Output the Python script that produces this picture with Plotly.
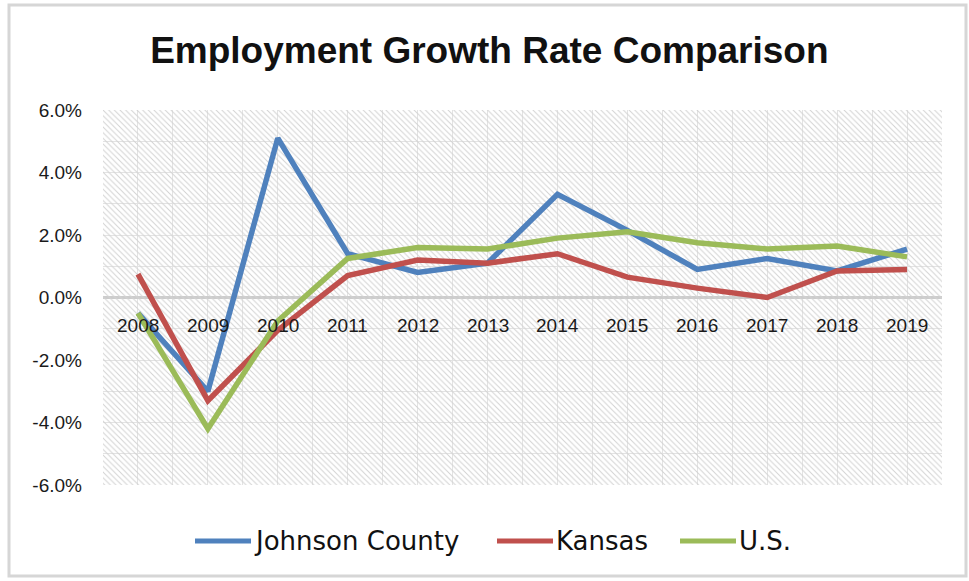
import plotly.graph_objects as go

# ---- data -------------------------------------------------------------
years = ["2008", "2009", "2010", "2011", "2012", "2013",
         "2014", "2015", "2016", "2017", "2018", "2019"]
johnson_county = [-0.5, -3.0, 5.1, 1.4, 0.8, 1.1, 3.3, 2.15, 0.9, 1.25, 0.85, 1.55]
kansas = [0.75, -3.3, -1.05, 0.7, 1.2, 1.1, 1.4, 0.65, 0.3, 0.0, 0.85, 0.9]
us = [-0.5, -4.2, -0.75, 1.25, 1.6, 1.55, 1.9, 2.1, 1.75, 1.55, 1.65, 1.3]
y_ticks = [-6, -4, -2, 0, 2, 4, 6]
y_tick_labels = [f"{v:.1f}%" for v in y_ticks]

series_names = ["Johnson County", "Kansas", "U.S."]
series_values = [johnson_county, kansas, us]
series_colors = ["#4F81BD", "#C0504D", "#9BBB59"]

# ---- layout geometry (pixels) -----------------------------------------
W, H = 969, 581
PL, PR, PT, PB = 103, 942, 110, 485          # plot-area edges
FONT = "Liberation Sans"
LEGEND_FONT = "DejaVu Sans"
LEGEND_Y = 541
LEGEND_SWATCH_X = [195, 497, 680]            # left end of each legend swatch
SWATCH_LEN = 56
n = len(years)


def px_to_paper_x(px):
    return (px - PL) / (PR - PL)


def px_to_paper_y(py):
    return (PB - py) / (PB - PT)


fig = go.Figure()

# hatched plot-area background (linear x axis, drawn underneath)
fig.add_trace(go.Scatter(
    x=[-0.5, n - 0.5, n - 0.5, -0.5, -0.5],
    y=[y_ticks[0], y_ticks[0], y_ticks[-1], y_ticks[-1], y_ticks[0]],
    xaxis="x", yaxis="y",
    mode="none", fill="toself",
    fillcolor="rgba(0,0,0,0)",
    fillpattern=dict(shape="\\", fgcolor="#d2d2d2", bgcolor="rgba(0,0,0,0)",
                     size=4, solidity=0.25, fillmode="replace"),
    hoverinfo="skip", showlegend=False,
))

# the three series on the categorical year axis, drawn on top
for name, vals, color in zip(series_names, series_values, series_colors):
    fig.add_trace(go.Scatter(
        x=years, y=vals, name=name, mode="lines",
        xaxis="x2", yaxis="y",
        line=dict(color=color, width=5.5),
        hovertemplate="%{x}: %{y:.1f}%<extra>" + name + "</extra>",
        showlegend=False,
    ))

# year labels sit just under the zero line (category index positions)
annotations = [
    dict(x=i, y=0, xref="x2", yref="y", text=yr, showarrow=False,
         yanchor="top", yshift=-15, font=dict(family=FONT, size=19, color="#1a1a1a"))
    for i, yr in enumerate(years)
]

# legend along the bottom: coloured swatch followed by the series name
shapes = [dict(type="rect", xref="paper", yref="paper",
               x0=px_to_paper_x(9), x1=px_to_paper_x(966),
               y0=px_to_paper_y(576), y1=px_to_paper_y(5),
               line=dict(color="#d6d6d6", width=3), layer="below")]
for name, color, sx in zip(series_names, series_colors, LEGEND_SWATCH_X):
    shapes.append(dict(type="line", xref="paper", yref="paper",
                       x0=px_to_paper_x(sx), x1=px_to_paper_x(sx + SWATCH_LEN),
                       y0=px_to_paper_y(LEGEND_Y), y1=px_to_paper_y(LEGEND_Y),
                       line=dict(color=color, width=5)))
    annotations.append(dict(x=px_to_paper_x(sx + SWATCH_LEN + 1), y=px_to_paper_y(LEGEND_Y),
                            xref="paper", yref="paper", text=name, showarrow=False,
                            xanchor="left", yanchor="middle",
                            font=dict(family=LEGEND_FONT, size=26, color="#111111")))

fig.update_layout(
    width=W, height=H,
    margin=dict(l=PL, r=W - PR, t=PT, b=H - PB, pad=0),
    paper_bgcolor="white", plot_bgcolor="white",
    title=dict(text="<b>Employment Growth Rate Comparison</b>",
               x=0.505, xanchor="center", y=1 - 50 / H, yanchor="middle",
               font=dict(family=FONT, size=37, color="#111111")),
    xaxis=dict(range=[-0.5, n - 0.5], tick0=0, dtick=0.5,
               showgrid=True, gridcolor="#e3e3e3", gridwidth=1,
               showticklabels=False, zeroline=False, showline=False, ticks=""),
    xaxis2=dict(type="category", categoryorder="array", categoryarray=years,
                overlaying="x", range=[-0.5, n - 0.5], showticklabels=False,
                showgrid=False, zeroline=False, showline=False, ticks=""),
    yaxis=dict(range=[y_ticks[0], y_ticks[-1]], tickvals=y_ticks,
               ticktext=y_tick_labels,
               showgrid=True, gridcolor="#e3e3e3", gridwidth=1,
               minor=dict(dtick=1, showgrid=True, gridcolor="#e3e3e3", gridwidth=1),
               zeroline=True, zerolinecolor="#cccccc", zerolinewidth=2.5,
               showline=False, ticks="", ticklabelstandoff=20,
               tickfont=dict(family=FONT, size=19, color="#1a1a1a")),
    showlegend=False,
    annotations=annotations,
    shapes=shapes,
    hovermode="x unified",
)

fig.write_html("out.html")
